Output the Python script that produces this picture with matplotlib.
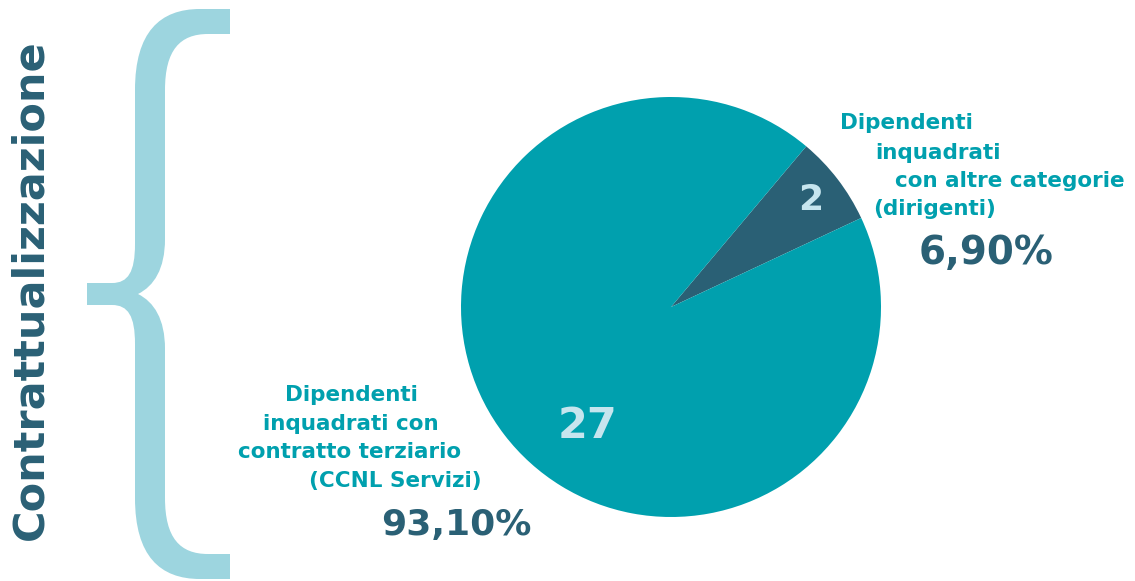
import numpy as np
import matplotlib.pyplot as plt
from matplotlib.path import Path
from matplotlib.patches import PathPatch

# data
categories = ["Dipendenti inquadrati con altre categorie (dirigenti)",
              "Dipendenti inquadrati con contratto terziario (CCNL Servizi)"]
values = [2, 27]
percent_labels = ["6,90%", "93,10%"]
title = "Contrattualizzazione"

teal = "#00A0AE"
dark = "#2A6075"
light = "#C6E5EE"
brace_col = "#9DD5DF"

plt.rcParams['font.family'] = ['DejaVu Sans']

W, H = 1135, 581
fig = plt.figure(figsize=(W / 100, H / 100), dpi=100)

# background layer in pixel coords
bg = fig.add_axes([0, 0, 1, 1])
bg.set_xlim(0, W)
bg.set_ylim(H, 0)
bg.axis("off")

# curly brace outline (upper half, then mirrored)
yc = 294
top = [
    (Path.MOVETO, (87, yc - 11)),
    (Path.LINETO, (112, yc - 11)),
    (Path.CURVE4, (128, yc - 11)), (Path.CURVE4, (135, yc - 22)), (Path.CURVE4, (135, yc - 50)),
    (Path.LINETO, (135, 90)),
    (Path.CURVE4, (135, 32)), (Path.CURVE4, (160, 9)), (Path.CURVE4, (200, 9)),
    (Path.LINETO, (230, 9)),
    (Path.LINETO, (230, 34)),
    (Path.LINETO, (208, 34)),
    (Path.CURVE4, (180, 34)), (Path.CURVE4, (165, 50)), (Path.CURVE4, (165, 90)),
    (Path.LINETO, (165, yc - 55)),
    (Path.CURVE4, (165, yc - 25)), (Path.CURVE4, (154, yc - 8)), (Path.CURVE4, (138, yc)),
]
pts = [p for _, p in top]
codes = [c for c, _ in top]
low_pts = [(x, 2 * yc - y) for x, y in pts[::-1]]
low_codes = [codes[len(pts) - i] for i in range(1, len(pts))]
verts = pts + low_pts[1:] + [pts[0]]
allcodes = codes + low_codes + [Path.CLOSEPOLY]
bg.add_patch(PathPatch(Path(verts, allcodes), facecolor=brace_col, edgecolor="none"))

bg.text(30, 290, title, rotation=90, ha="center", va="center",
        fontsize=31, fontweight="bold", color=dark)

# pie
ax = fig.add_axes([461 / W, 1 - 517 / H, 420 / W, 420 / H])
small_ang = 360 * values[0] / sum(values)
wedges, texts = ax.pie(values, colors=[dark, teal], startangle=37.5 - small_ang / 2,
                       labels=[str(v) for v in values], labeldistance=0.84,
                       textprops=dict(color=light, fontweight="bold", ha="center", va="center"),
                       wedgeprops=dict(linewidth=0))
ax.set_xlim(-1, 1)
ax.set_ylim(-1, 1)
ax.set_aspect("equal")
texts[0].set_fontsize(26)
texts[1].set_fontsize(31)
ang = np.deg2rad(235)
texts[1].set_position((0.69 * np.cos(ang), 0.69 * np.sin(ang)))

# right label
lab_kw = dict(fontsize=15.5, fontweight="bold", color=teal, va="center")
bg.text(840, 123, "Dipendenti", ha="left", **lab_kw)
bg.text(875, 153, "inquadrati", ha="left", **lab_kw)
bg.text(895, 181, "con altre categorie", ha="left", **lab_kw)
bg.text(873, 209, "(dirigenti)", ha="left", **lab_kw)
bg.text(986, 253, percent_labels[0], ha="center", va="center",
        fontsize=28, fontweight="bold", color=dark)

# left label
bg.text(351, 395, "Dipendenti", ha="center", **lab_kw)
bg.text(351, 424, "inquadrati con", ha="center", **lab_kw)
bg.text(350, 452, "contratto terziario", ha="center", **lab_kw)
bg.text(482, 481, "(CCNL Servizi)", ha="right", **lab_kw)
bg.text(456, 525, percent_labels[1], ha="center", va="center",
        fontsize=26, fontweight="bold", color=dark)

fig.savefig("out.png", dpi=100)
